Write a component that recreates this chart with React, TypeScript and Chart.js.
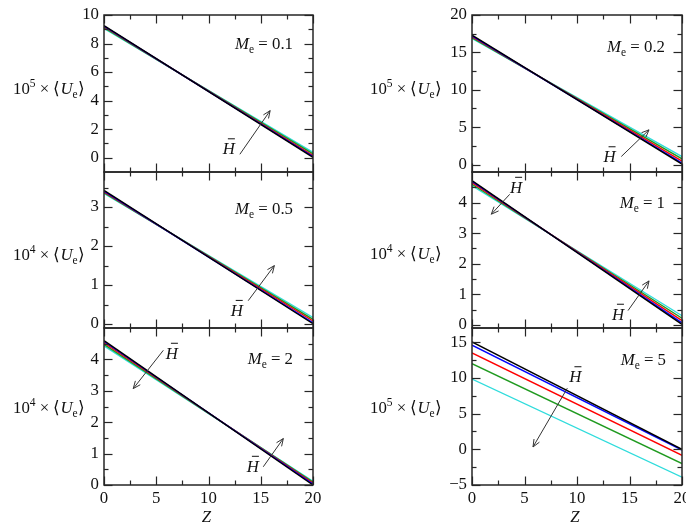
import React, { useEffect, useRef } from "react";
import { Chart, registerables } from "chart.js";

Chart.register(...registerables);

const W = 686;
const H = 522;

// Z range (x axis)
const Z_POINTS = [0, 20];
const X_MAJOR = [0, 5, 10, 15, 20];
const X_MINOR = [2.5, 7.5, 12.5, 17.5];
const X_LABELS = [0, 5, 10, 15, 20];

const SERIES_NAMES = ["H1", "H2", "H3", "H4", "H5"];
const SERIES_COLORS = ["#000000", "#0000ff", "#ff0000", "#1f9a1f", "#2fdcdc"];

// <Ue> at Z = 0 and Z = 20 for the five H-bar values
const me01Start = [9.25, 9.22, 9.18, 9.12, 9.05];
const me01End = [0.02, 0.08, 0.15, 0.27, 0.38];
const me05Start = [3.43, 3.41, 3.39, 3.37, 3.35];
const me05End = [0.01, 0.03, 0.08, 0.12, 0.17];
const me2Start = [4.6, 4.57, 4.53, 4.48, 4.43];
const me2End = [0.0, 0.03, 0.06, 0.09, 0.12];
const me02Start = [17.3, 17.2, 17.1, 16.95, 16.85];
const me02End = [0.05, 0.2, 0.45, 0.75, 1.05];
const me1Start = [4.72, 4.69, 4.65, 4.6, 4.55];
const me1End = [0.02, 0.07, 0.14, 0.22, 0.3];
const me5Start = [15.05, 14.6, 13.5, 12.0, 9.85];
const me5End = [0.0, -0.1, -0.85, -2.0, -3.9];

// y tick values
const me01Major = [0, 2, 4, 6, 8, 10];
const me01Minor = [1, 3, 5, 7, 9];
const me01Labels = ["0", "2", "4", "6", "8", "10"];
const me05Major = [0, 1, 2, 3];
const me05Minor = [0.5, 1.5, 2.5, 3.5];
const me05Labels = ["0", "1", "2", "3"];
const me2Major = [0, 1, 2, 3, 4];
const me2Minor = [0.5, 1.5, 2.5, 3.5, 4.5];
const me2Labels = ["0", "1", "2", "3", "4"];
const me02Major = [0, 5, 10, 15, 20];
const me02Minor = [2.5, 7.5, 12.5, 17.5];
const me02Labels = ["0", "5", "10", "15", "20"];
const me1Major = [0, 1, 2, 3, 4];
const me1Minor = [0.5, 1.5, 2.5, 3.5, 4.5];
const me1Labels = ["0", "1", "2", "3", "4"];
const me5Major = [-5, 0, 5, 10, 15];
const me5Minor = [-2.5, 2.5, 7.5, 12.5];
const me5Labels = ["\u22125", "0", "5", "10", "15"];

const COL_X = [
  [104, 313],
  [472, 682],
];
const ROW_Y = [
  [15, 172],
  [172, 328],
  [328, 485],
];
const TITLE_LEFT = [13, 370];

const PANELS = [
  {
    id: "me01", col: 0, row: 0, me: "0.1", exp: "5", yMin: -1, yMax: 10,
    start: me01Start, end: me01End, major: me01Major, minor: me01Minor, labels: me01Labels,
    meBase: 34, meRight: 20, titleBase: 94,
    arrows: [{ from: [13.0, 0.24], to: [15.9, 3.3], label: [11.95, 0.24] }],
  },
  {
    id: "me05", col: 0, row: 1, me: "0.5", exp: "4", yMin: -0.1, yMax: 3.9,
    start: me05Start, end: me05End, major: me05Major, minor: me05Minor, labels: me05Labels,
    meBase: 42, meRight: 20, titleBase: 260,
    arrows: [{ from: [13.8, 0.6], to: [16.3, 1.5], label: [12.7, 0.21] }],
  },
  {
    id: "me2", col: 0, row: 2, me: "2", exp: "4", yMin: 0, yMax: 5,
    start: me2Start, end: me2End, major: me2Major, minor: me2Minor, labels: me2Labels,
    meBase: 36, meRight: 20, titleBase: 413,
    arrows: [
      { from: [5.68, 4.29], to: [2.8, 3.07], label: [6.5, 4.02] },
      { from: [15.24, 0.58], to: [17.16, 1.48], label: [14.25, 0.42] },
    ],
  },
  {
    id: "me02", col: 1, row: 0, me: "0.2", exp: "5", yMin: -1, yMax: 20,
    start: me02Start, end: me02End, major: me02Major, minor: me02Minor, labels: me02Labels,
    meBase: 36.5, meRight: 17, titleBase: 94,
    arrows: [{ from: [14.22, 1.07], to: [16.86, 4.64], label: [13.1, 0.3] }],
  },
  {
    id: "me1", col: 1, row: 1, me: "1", exp: "4", yMin: -0.1, yMax: 5,
    start: me1Start, end: me1End, major: me1Major, minor: me1Minor, labels: me1Labels,
    meBase: 36, meRight: 17, titleBase: 259,
    arrows: [
      { from: [3.59, 4.27], to: [1.84, 3.62], label: [4.2, 4.32] },
      { from: [14.86, 0.47], to: [16.86, 1.44], label: [13.9, 0.17] },
    ],
  },
  {
    id: "me5", col: 1, row: 2, me: "5", exp: "5", yMin: -5, yMax: 17,
    start: me5Start, end: me5End, major: me5Major, minor: me5Minor, labels: me5Labels,
    meBase: 37, meRight: 16, titleBase: 413,
    arrows: [{ from: [9.08, 8.57], to: [5.81, 0.33], label: [9.85, 9.4] }],
  },
];

const SERIF = '"Liberation Serif", "Times New Roman", serif';
const F16 = `16.8px ${SERIF}`;
const F16I = `italic 16.8px ${SERIF}`;
const F11 = `11.5px ${SERIF}`;
const FRAME = "#262626";
const TEXT = "#111111";
const MAJ = 8.5;
const MIN = 4.5;

type Part = { t: string; f: string; dy?: number };

function richWidth(ctx: CanvasRenderingContext2D, parts: Part[]) {
  let w = 0;
  for (const p of parts) {
    ctx.font = p.f;
    w += ctx.measureText(p.t).width;
  }
  return w;
}

function drawRich(ctx: CanvasRenderingContext2D, parts: Part[], x: number, y: number) {
  let cx = x;
  ctx.textAlign = "left";
  ctx.textBaseline = "alphabetic";
  for (const p of parts) {
    ctx.font = p.f;
    ctx.fillText(p.t, cx, y + (p.dy || 0));
    cx += ctx.measureText(p.t).width;
  }
}

function makeFramePlugin(cfg: any) {
  return {
    id: "frame_" + cfg.id,
    afterDraw(chart: any) {
      const { ctx, chartArea: a, scales } = chart;
      const xs = scales.x;
      const ys = scales.y;
      ctx.save();
      ctx.strokeStyle = FRAME;
      // ticks
      ctx.lineWidth = 1.2;
      const seg = (x1: number, y1: number, x2: number, y2: number) => {
        ctx.beginPath();
        ctx.moveTo(x1, y1);
        ctx.lineTo(x2, y2);
        ctx.stroke();
      };
      const xt = (vals: number[], len: number) =>
        vals.forEach((v) => {
          const px = Math.round(xs.getPixelForValue(v)) + 0.5;
          seg(px, a.top, px, a.top + len);
          seg(px, a.bottom, px, a.bottom - len);
        });
      const yt = (vals: number[], len: number) =>
        vals.forEach((v) => {
          const py = Math.round(ys.getPixelForValue(v)) + 0.5;
          seg(a.left, py, a.left + len, py);
          seg(a.right, py, a.right - len, py);
        });
      xt(X_MAJOR, MAJ);
      xt(X_MINOR, MIN);
      yt(cfg.major, MAJ);
      yt(cfg.minor, MIN);
      // frame
      ctx.lineWidth = 1.5;
      ctx.strokeRect(a.left, a.top, a.right - a.left, a.bottom - a.top);

      // y tick labels
      ctx.fillStyle = TEXT;
      ctx.font = F16;
      ctx.textAlign = "right";
      ctx.textBaseline = "middle";
      cfg.major.forEach((v: number, i: number) => {
        ctx.fillText(cfg.labels[i], a.left - 5, ys.getPixelForValue(v));
      });

      // x tick labels + title on bottom row
      if (cfg.row === 2) {
        ctx.textAlign = "center";
        ctx.textBaseline = "alphabetic";
        X_MAJOR.forEach((v, i) => {
          ctx.fillText(String(X_LABELS[i]), xs.getPixelForValue(v), a.bottom + 18);
        });
        ctx.font = F16I;
        ctx.fillText("Z", (a.left + a.right) / 2 - 2, a.bottom + 36.5);
      }

      // y axis title
      const title: Part[] = [
        { t: "10", f: F16 },
        { t: cfg.exp, f: F11, dy: -7 },
        { t: " \u00d7 \u27e8", f: F16 },
        { t: "U", f: F16I },
        { t: "e", f: F11, dy: 4 },
        { t: "\u27e9", f: F16 },
      ];
      drawRich(ctx, title, TITLE_LEFT[cfg.col], cfg.titleBase);

      // Me label
      const meParts: Part[] = [
        { t: "M", f: F16I },
        { t: "e", f: F11, dy: 4 },
        { t: " = " + cfg.me, f: F16 },
      ];
      const mw = richWidth(ctx, meParts);
      drawRich(ctx, meParts, a.right - cfg.meRight - mw, a.top + cfg.meBase);

      // arrows with H-bar labels
      cfg.arrows.forEach((ar: any) => {
        const x1 = xs.getPixelForValue(ar.from[0]);
        const y1 = ys.getPixelForValue(ar.from[1]);
        const x2 = xs.getPixelForValue(ar.to[0]);
        const y2 = ys.getPixelForValue(ar.to[1]);
        ctx.strokeStyle = "#333333";
        ctx.lineWidth = 1;
        seg(x1, y1, x2, y2);
        const ang = Math.atan2(y2 - y1, x2 - x1);
        const hl = 8;
        const spread = 0.4;
        seg(x2, y2, x2 - hl * Math.cos(ang - spread), y2 - hl * Math.sin(ang - spread));
        seg(x2, y2, x2 - hl * Math.cos(ang + spread), y2 - hl * Math.sin(ang + spread));
        const lx = xs.getPixelForValue(ar.label[0]);
        const ly = ys.getPixelForValue(ar.label[1]);
        ctx.font = F16I;
        ctx.textAlign = "center";
        ctx.textBaseline = "alphabetic";
        ctx.fillStyle = TEXT;
        ctx.fillText("H", lx, ly);
        ctx.strokeStyle = TEXT;
        ctx.lineWidth = 1;
        seg(lx - 1, ly - 15.5, lx + 6, ly - 15.5);
      });
      ctx.restore();
    },
  };
}

function Panel({ cfg }: { cfg: any }) {
  const ref = useRef<HTMLCanvasElement | null>(null);
  useEffect(() => {
    if (!ref.current) return;
    const [left, right] = COL_X[cfg.col];
    const [top, bottom] = ROW_Y[cfg.row];
    const chart = new Chart(ref.current, {
      type: "line",
      data: {
        datasets: cfg.start.map((s: number, i: number) => ({
          label: SERIES_NAMES[i],
          data: [
            { x: Z_POINTS[0], y: s },
            { x: Z_POINTS[1], y: cfg.end[i] },
          ],
          borderColor: SERIES_COLORS[i],
          backgroundColor: SERIES_COLORS[i],
          borderWidth: 1.4,
          pointRadius: 0,
          fill: false,
          tension: 0,
        })),
      },
      options: {
        responsive: false,
        maintainAspectRatio: false,
        animation: false,
        devicePixelRatio: 1,
        events: [],
        layout: { padding: { left, top, right: W - right, bottom: H - bottom } },
        scales: {
          x: { type: "linear", min: 0, max: 20, display: false },
          y: { type: "linear", min: cfg.yMin, max: cfg.yMax, display: false },
        },
        plugins: { legend: { display: false }, tooltip: { enabled: false }, title: { display: false } },
      },
      plugins: [makeFramePlugin(cfg)],
    } as any);
    return () => chart.destroy();
  }, [cfg]);
  return (
    <canvas
      ref={ref}
      width={W}
      height={H}
      style={{ position: "absolute", left: 0, top: 0, width: W, height: H }}
    />
  );
}

export default function App() {
  return (
    <div style={{ position: "absolute", left: 0, top: 0, width: W, height: H, background: "#ffffff" }}>
      {PANELS.map((p) => (
        <Panel key={p.id} cfg={p} />
      ))}
    </div>
  );
}
